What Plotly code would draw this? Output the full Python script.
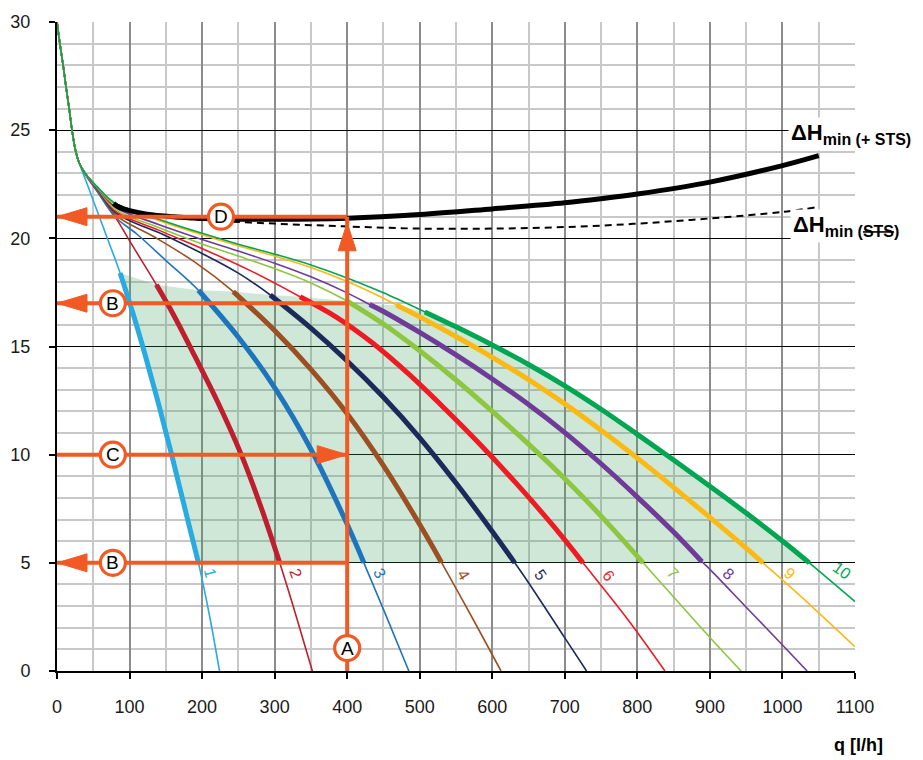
import plotly.graph_objects as go

# ---------------- data ----------------
TRUNK_Q = [0, 4, 8.7, 12.4, 17, 20.7, 25.3, 30.8]
TRUNK_H = [30, 29.0, 27.94, 27.0, 25.94, 25.0, 24.1, 23.47]

C1_Q = [40, 55, 70, 87, 105, 122, 140, 158, 176, 195, 210, 224]
C1_H = [22.65, 21.3, 19.95, 18.4, 16.5, 14.55, 12.35, 10.0, 7.55, 5.0, 2.6, 0.0]

C2_Q = [40, 64, 82, 98, 118, 137, 160, 190, 222, 254, 282, 307, 330, 352]
C2_H = [22.9, 21.77, 20.9, 20.0, 18.9, 17.85, 16.5, 14.55, 12.4, 10.0, 7.5, 5.0, 2.5, 0.0]

C3_Q = [40, 55, 80, 110, 151, 195, 250, 300, 350, 400, 423, 450, 485]
C3_H = [22.95, 22.2, 21.0, 20.2, 18.95, 17.6, 15.43, 13.1, 10.25, 6.78, 5.0, 2.85, 0.0]

C4_Q = [40, 55, 80, 135, 190, 243, 300, 350, 400, 450, 500, 530, 575, 612]
C4_H = [22.95, 22.3, 21.1, 20.05, 18.9, 17.54, 15.74, 13.94, 11.89, 9.49, 6.77, 5.02, 2.3, 0.0]

C5_Q = [40, 55, 80, 150, 200, 250, 294, 350, 400, 450, 500, 550, 600, 631, 650, 700, 730]
C5_H = [22.95, 22.32, 21.2, 20.12, 19.3, 18.39, 17.38, 15.85, 14.33, 12.65, 10.78, 8.69, 6.45, 5.0, 4.08, 1.53, 0.0]

C6_Q = [40, 55, 80, 140, 202, 270, 335, 385, 435, 485, 535, 585, 635, 685, 725, 785, 838]
C6_H = [22.95, 22.34, 21.27, 20.38, 19.5, 18.45, 17.3, 16.36, 15.16, 13.72, 12.11, 10.41, 8.6, 6.67, 5.0, 2.46, 0.0]

C7_Q = [40, 55, 80, 140, 200, 250, 300, 350, 400, 450, 500, 550, 600, 650, 700, 750, 808, 850, 900, 943]
C7_H = [22.95, 22.36, 21.35, 20.5, 19.74, 19.18, 18.6, 17.94, 17.1, 16.04, 14.8, 13.45, 12.0, 10.49, 8.89, 7.16, 5.0, 3.42, 1.55, 0.0]

C8_Q = [40, 55, 80, 140, 200, 250, 300, 350, 400, 431, 450, 500, 550, 600, 650, 700, 750, 800, 850, 889, 900, 950, 1000, 1034]
C8_H = [22.95, 22.37, 21.45, 20.64, 19.95, 19.41, 18.85, 18.22, 17.48, 16.94, 16.62, 15.65, 14.61, 13.5, 12.32, 11.02, 9.58, 8.04, 6.42, 5.05, 4.7, 2.95, 1.2, 0.0]

C9_Q = [40, 55, 80, 140, 200, 250, 300, 350, 400, 450, 468, 500, 550, 600, 650, 700, 750, 800, 850, 900, 950, 973, 1000, 1050, 1100]
C9_H = [22.95, 22.38, 21.56, 20.83, 20.17, 19.66, 19.18, 18.65, 18.0, 17.23, 16.92, 16.37, 15.46, 14.5, 13.47, 12.35, 11.13, 9.84, 8.49, 7.1, 5.68, 5.0, 4.21, 2.69, 1.12]

C10_Q = [40, 55, 80, 140, 200, 250, 300, 350, 400, 450, 507, 550, 600, 650, 700, 750, 800, 850, 900, 950, 1000, 1037, 1100]
C10_H = [22.95, 22.4, 21.62, 20.88, 20.23, 19.73, 19.27, 18.77, 18.17, 17.48, 16.6, 15.91, 15.07, 14.17, 13.18, 12.1, 10.94, 9.75, 8.54, 7.3, 6.01, 5.0, 3.21]

CURVE_NAMES = ["1", "2", "3", "4", "5", "6", "7", "8", "9", "10"]
CURVE_COLORS = ["#29ABE2", "#BE1E2D", "#1F75BC", "#9C4F22", "#1B2A5A",
                "#ED1C24", "#8DC63F", "#6F3A98", "#FDB913", "#00A651"]
THICK_FROM_Q = [87, 137, 195, 243, 294, 335, 400, 431, 468, 507]  # start of operating range per curve
H_RANGE_MIN = 5.0                                                # lower end of operating range

LABEL_Q = [211, 329, 445, 560, 666, 760, 849, 925, 1010, 1082]
LABEL_H = [4.55, 4.5, 4.5, 4.45, 4.45, 4.4, 4.5, 4.5, 4.5, 4.65]
LABEL_ANGLE = [76, 70, 63, 58, 54, 52, 46, 42, 38, 36]

# Delta H min curves
HMIN_STS_Q = [78, 85, 100, 124, 160, 200, 300, 400, 500, 600, 700, 750, 800, 900, 1000, 1050]
HMIN_STS_H = [21.62, 21.45, 21.28, 21.12, 21.0, 20.92, 20.88, 20.93, 21.1, 21.36, 21.64, 21.83, 22.05, 22.6, 23.36, 23.82]
HMIN_Q = [80, 124, 200, 300, 400, 500, 600, 700, 800, 900, 1000, 1050]
HMIN_H = [21.6, 21.1, 20.85, 20.68, 20.55, 20.45, 20.45, 20.52, 20.68, 20.92, 21.22, 21.45]

# reading example (orange construction)
Q_SEL = 400
H_D = 21.0
H_A_TIP = 20.72
H_B_UP = 17.0
H_C = 10.0
H_B_LOW = 5.0
CIRCLE_Q = 77
D_CIRCLE_Q = 226
A_CIRCLE_H = 1.06

ORANGE = "#F15A24"
FONT = "Arial, Liberation Sans, sans-serif"

CURVES_Q = [C1_Q, C2_Q, C3_Q, C4_Q, C5_Q, C6_Q, C7_Q, C8_Q, C9_Q, C10_Q]
CURVES_H = [C1_H, C2_H, C3_H, C4_H, C5_H, C6_H, C7_H, C8_H, C9_H, C10_H]

fig = go.Figure()


def op_segment(qs, hs, q_from):
    pts = [(q, h) for q, h in zip(qs, hs) if q >= q_from and h >= H_RANGE_MIN - 0.06]
    return [p[0] for p in pts], [p[1] for p in pts]


# ---- shaded operating area ----
lq, lh = op_segment(CURVES_Q[0], CURVES_H[0], THICK_FROM_Q[0])
rq, rh = op_segment(CURVES_Q[-1], CURVES_H[-1], THICK_FROM_Q[-1])
top_q, top_h = [], []
for k in range(len(CURVES_Q) - 2, 0, -1):
    idx = CURVES_Q[k].index(THICK_FROM_Q[k])
    top_q.append(CURVES_Q[k][idx])
    top_h.append(CURVES_H[k][idx])
poly_q = lq + rq[::-1] + top_q + [lq[0]]
poly_h = lh + rh[::-1] + top_h + [lh[0]]
fig.add_trace(go.Scatter(x=poly_q, y=poly_h, fill="toself", mode="lines",
                         line=dict(width=0), fillcolor="rgba(60,160,90,0.25)",
                         hoverinfo="skip", showlegend=False))

# ---- thin full curves ----
for k in range(10):
    fig.add_trace(go.Scatter(x=TRUNK_Q + CURVES_Q[k], y=TRUNK_H + CURVES_H[k], mode="lines",
                             line=dict(color=CURVE_COLORS[k], width=1.6, shape="spline", smoothing=1.0),
                             showlegend=False, hoverinfo="skip"))
# ---- thick operating segments ----
for k in range(10):
    sq, sh = op_segment(CURVES_Q[k], CURVES_H[k], THICK_FROM_Q[k])
    fig.add_trace(go.Scatter(x=sq, y=sh, mode="lines",
                             line=dict(color=CURVE_COLORS[k], width=5, shape="spline", smoothing=1.0),
                             showlegend=False, hoverinfo="skip"))

# ---- Delta H min lines ----
fig.add_trace(go.Scatter(x=HMIN_Q, y=HMIN_H, mode="lines",
                         line=dict(color="black", width=2, dash="7px,5px", shape="spline"),
                         showlegend=False, hoverinfo="skip"))
fig.add_trace(go.Scatter(x=HMIN_STS_Q, y=HMIN_STS_H, mode="lines",
                         line=dict(color="black", width=5, shape="spline"),
                         showlegend=False, hoverinfo="skip"))

# ---- orange construction lines (shapes above traces) ----
shapes = []
def hline(h, q0, q1):
    shapes.append(dict(type="line", xref="x", yref="y", x0=q0, x1=q1, y0=h, y1=h,
                       line=dict(color=ORANGE, width=4), layer="above"))

shapes.append(dict(type="line", xref="x", yref="y", x0=Q_SEL, x1=Q_SEL, y0=0, y1=H_D,
                   line=dict(color=ORANGE, width=4), layer="above"))
for h in (H_D, H_B_UP, H_B_LOW, H_C):
    hline(h, 0, Q_SEL)

def arrowhead(q, h, path):
    shapes.append(dict(type="path", xref="x", yref="y", xsizemode="pixel", ysizemode="pixel",
                       xanchor=q, yanchor=h, path=path, fillcolor=ORANGE,
                       line=dict(color=ORANGE, width=1), layer="above"))

LEFT = "M0,0 L30,9 L30,-9 Z"
RIGHT = "M0,0 L-30,9 L-30,-9 Z"
UP = "M0,0 L9,-28 L-9,-28 Z"
for h in (H_D, H_B_UP, H_B_LOW):
    arrowhead(0, h, LEFT)
arrowhead(Q_SEL, H_C, RIGHT)
arrowhead(Q_SEL, H_A_TIP, UP)

circles = [("A", Q_SEL, A_CIRCLE_H), ("B", CIRCLE_Q, H_B_UP), ("B", CIRCLE_Q, H_B_LOW),
           ("C", CIRCLE_Q, H_C), ("D", D_CIRCLE_Q, H_D)]
annotations = []
for letter, q, h in circles:
    shapes.append(dict(type="circle", xref="x", yref="y", xsizemode="pixel", ysizemode="pixel",
                       xanchor=q, yanchor=h, x0=-12.5, x1=12.5, y0=-12.5, y1=12.5,
                       fillcolor="white", line=dict(color=ORANGE, width=3.2), layer="above"))
    annotations.append(dict(x=q, y=h, xref="x", yref="y", text=letter, showarrow=False,
                            font=dict(family=FONT, size=19, color="black"),
                            xanchor="center", yanchor="middle"))

# ---- curve number labels ----
for k in range(10):
    annotations.append(dict(x=LABEL_Q[k], y=LABEL_H[k], xref="x", yref="y", text=CURVE_NAMES[k],
                            showarrow=False, textangle=LABEL_ANGLE[k],
                            font=dict(family=FONT, size=16, color=CURVE_COLORS[k]),
                            xanchor="center", yanchor="middle"))

# ---- Delta H labels ----
annotations.append(dict(x=1008, y=24.8, xref="x", yref="y",
                        text='<b>ΔH</b><sub><b><span style="font-size:16px">min (+ STS)</span></b></sub>',
                        showarrow=False, font=dict(family=FONT, size=22, color="black"),
                        xanchor="left", yanchor="middle", bgcolor="white", borderpad=2))
annotations.append(dict(x=1011, y=20.58, xref="x", yref="y",
                        text='<b>ΔH</b><sub><b><span style="font-size:16px">min (<s>STS</s>)</span></b></sub>',
                        showarrow=False, font=dict(family=FONT, size=22, color="black"),
                        xanchor="left", yanchor="middle", bgcolor="white", borderpad=2))
annotations.append(dict(x=1.037, y=-0.114, xref="paper", yref="paper", text="<b>q [l/h]</b>",
                        showarrow=False, font=dict(family=FONT, size=18, color="black"),
                        xanchor="right", yanchor="middle"))

fig.update_layout(
    width=923, height=760,
    margin=dict(l=57, r=68, t=22, b=89),
    paper_bgcolor="white", plot_bgcolor="white",
    shapes=shapes, annotations=annotations,
    xaxis=dict(range=[0, 1100], tick0=0, dtick=100, showgrid=True, gridcolor="#8c8c8c", gridwidth=1.6,
               minor=dict(dtick=50, showgrid=True, gridcolor="#c8c8c8", gridwidth=2),
               zeroline=False, showline=True, linecolor="black", linewidth=2,
               ticks="outside", ticklen=6, tickwidth=1.5, tickcolor="black",
               ticklabelstandoff=12, automargin=False,
               tickfont=dict(family=FONT, size=18, color="#1a1a1a")),
    yaxis=dict(range=[0, 30], tick0=0, dtick=5, showgrid=True, gridcolor="black", gridwidth=1.4,
               minor=dict(dtick=1, showgrid=True, gridcolor="#c8c8c8", gridwidth=2),
               zeroline=False, showline=True, linecolor="black", linewidth=2,
               ticks="outside", ticklen=6, tickwidth=1.5, tickcolor="black",
               ticklabelstandoff=15, automargin=False,
               tickfont=dict(family=FONT, size=18, color="#1a1a1a")),
)

fig.write_html("out.html")
